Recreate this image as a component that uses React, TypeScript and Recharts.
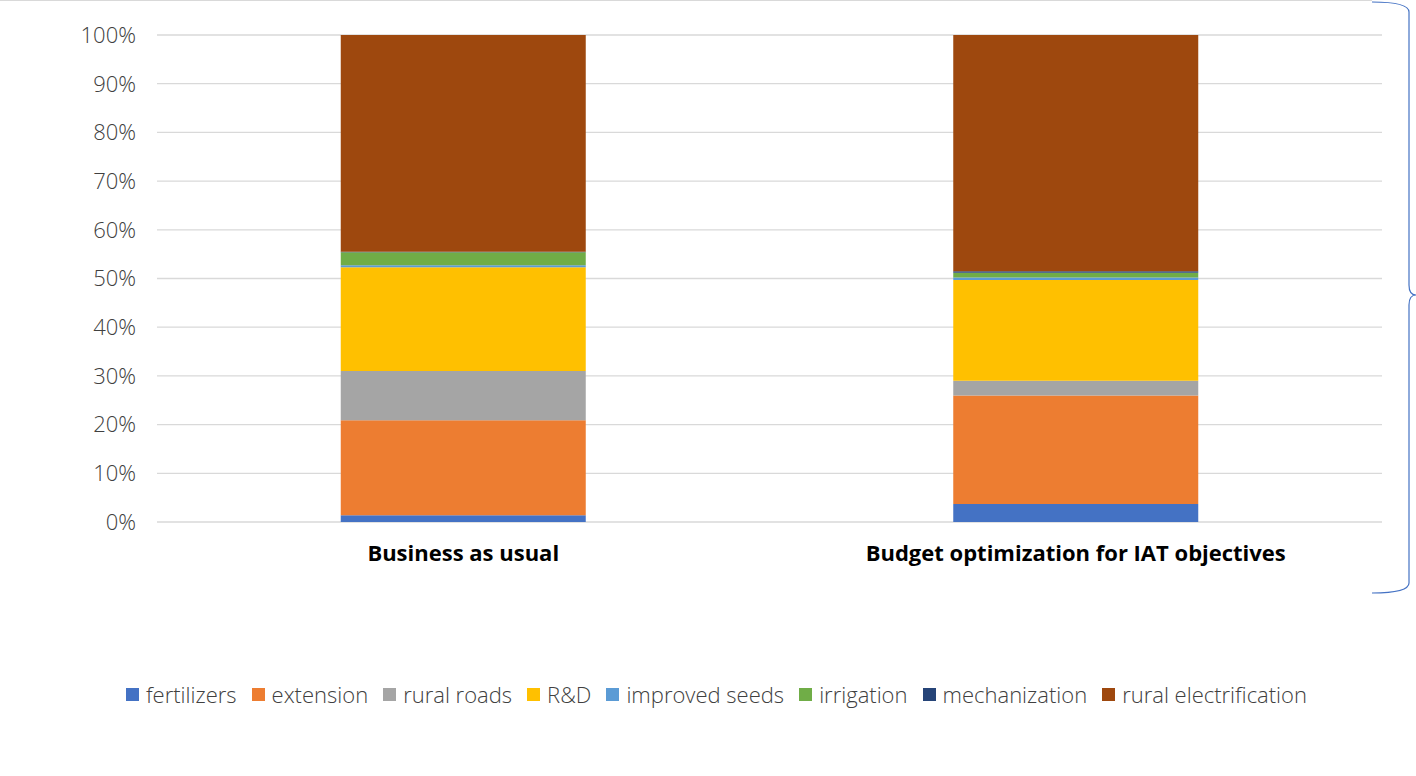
import { BarChart, Bar, XAxis, YAxis, CartesianGrid, Legend } from 'recharts';

const scenarios = ['Business as usual', 'Budget optimization for IAT objectives'];

const fertilizers = [1.4, 3.7];
const extension = [19.5, 22.3];
const ruralRoads = [10.1, 3.0];
const rnd = [21.3, 20.7];
const improvedSeeds = [0.4, 0.5];
const irrigation = [2.7, 1.0];
const mechanization = [0.1, 0.3];
const ruralElectrification = [44.5, 48.5];

const yTicks = [0, 10, 20, 30, 40, 50, 60, 70, 80, 90, 100];

const seriesList = [
  { key: 'fertilizers', values: fertilizers, color: '#4472C4' },
  { key: 'extension', values: extension, color: '#ED7D31' },
  { key: 'rural roads', values: ruralRoads, color: '#A5A5A5' },
  { key: 'R&D', values: rnd, color: '#FFC000' },
  { key: 'improved seeds', values: improvedSeeds, color: '#5B9BD5' },
  { key: 'irrigation', values: irrigation, color: '#70AD47' },
  { key: 'mechanization', values: mechanization, color: '#264478' },
  { key: 'rural electrification', values: ruralElectrification, color: '#9E480E' },
];

const data = scenarios.map((name, i) => {
  const row: Record<string, string | number> = { name };
  seriesList.forEach((s) => {
    row[s.key] = s.values[i];
  });
  return row;
});

const FONT = '"Open Sans", sans-serif';

function LegendContent() {
  return (
    <div
      style={{
        display: 'flex',
        justifyContent: 'center',
        gap: 15,
        fontFamily: FONT,
        fontSize: 22,
        fontWeight: 300,
        color: '#404040',
        lineHeight: '30px',
        paddingLeft: 51,
      }}
    >
      {seriesList.map((s) => (
        <div key={s.key} style={{ display: 'flex', alignItems: 'center' }}>
          <span
            style={{
              display: 'inline-block',
              width: 13,
              height: 13,
              background: s.color,
              marginRight: 7,
            }}
          />
          {s.key}
        </div>
      ))}
    </div>
  );
}

export default function App() {
  return (
    <div style={{ position: 'absolute', left: 0, top: 0, width: 1416, height: 776, background: '#fff' }}>
      <BarChart
        width={1416}
        height={776}
        data={data}
        margin={{ top: 35, right: 34, left: 0, bottom: 67 }}
        barCategoryGap="30%"
      >
        <CartesianGrid vertical={false} stroke="#D9D9D9" strokeWidth={1.3} />
        <XAxis
          dataKey="name"
          axisLine={false}
          tickLine={false}
          height={157}
          tickMargin={17}
          tick={{ fill: '#000', fontSize: 22, fontWeight: 700, fontFamily: FONT }}
        />
        <YAxis
          width={157}
          domain={[0, 100]}
          ticks={yTicks}
          axisLine={false}
          tickLine={false}
          tickMargin={15}
          tickFormatter={(v) => `${v}%`}
          tick={{ fill: '#404040', fontSize: 22, fontWeight: 300, fontFamily: FONT }}
        />
        <Legend verticalAlign="bottom" content={<LegendContent />} />
        {seriesList.map((s) => (
          <Bar
            key={s.key}
            dataKey={s.key}
            stackId="a"
            fill={s.color}
            isAnimationActive={false}
          />
        ))}
      </BarChart>
      <svg
        width={1416}
        height={776}
        style={{ position: 'absolute', left: 0, top: 0, pointerEvents: 'none' }}
      >
        <line x1={0} y1={0.5} x2={1372} y2={0.5} stroke="#D9D9D9" strokeWidth={1} />
        <path
          d="M1372,2 Q1409,2 1409,12 L1409,285 Q1409,295 1416,295 Q1409,295 1409,305 L1409,583 Q1409,593 1372,593"
          fill="none"
          stroke="#4472C4"
          strokeWidth={1.2}
        />
      </svg>
    </div>
  );
}
